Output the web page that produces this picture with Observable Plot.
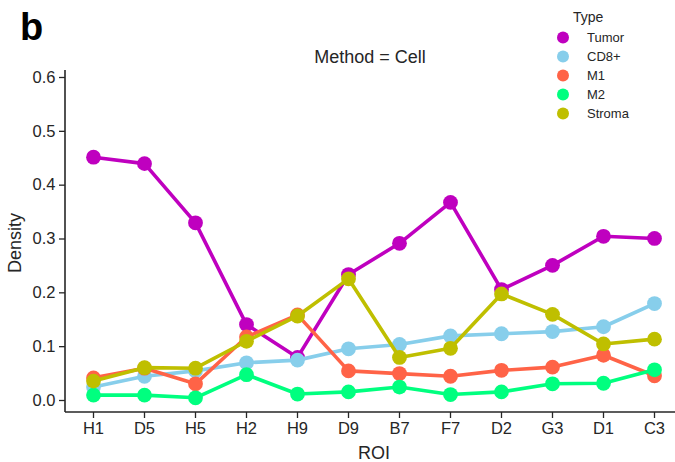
<!DOCTYPE html>
<html>
<head>
<meta charset="utf-8">
<script src="https://cdn.jsdelivr.net/npm/d3@7"></script>
<script src="https://cdn.jsdelivr.net/npm/@observablehq/plot@0.6"></script>
<style>
  html, body { margin: 0; padding: 0; background: #fff; }
  #chart { position: relative; width: 675px; height: 462px; }
</style>
</head>
<body>
<div id="chart"></div>
<script>
const rois = ["H1","D5","H5","H2","H9","D9","B7","F7","D2","G3","D1","C3"];
const types = ["Tumor","CD8+","M1","M2","Stroma"];
const colors = ["#BF00BF","#87CEEB","#FF6347","#00FF7F","#BFBF00"];
const tumor  = [0.452,0.440,0.330,0.141,0.080,0.234,0.292,0.368,0.206,0.251,0.305,0.301];
const cd8    = [0.025,0.045,0.055,0.070,0.075,0.096,0.104,0.120,0.124,0.128,0.137,0.180];
const m1     = [0.042,0.060,0.031,0.118,0.159,0.055,0.050,0.045,0.056,0.062,0.084,0.046];
const m2     = [0.010,0.010,0.005,0.048,0.012,0.016,0.025,0.011,0.016,0.031,0.032,0.057];
const stroma = [0.036,0.061,0.060,0.110,0.157,0.226,0.080,0.097,0.198,0.160,0.105,0.114];
const yTicks = [0,0.1,0.2,0.3,0.4,0.5,0.6];
const title = "Method = Cell";
const panel = "b";

const series = [tumor, cd8, m1, m2, stroma];
const data = [];
series.forEach((vals, k) => vals.forEach((v, i) => data.push({type: types[k], roi: rois[i], density: v})));

const marks = [];
types.forEach((t) => {
  const sub = data.filter(d => d.type === t);
  marks.push(Plot.line(sub, {x: "roi", y: "density", stroke: "type", strokeWidth: 3.6}));
  marks.push(Plot.dot(sub, {x: "roi", y: "density", fill: "type", r: 7.4}));
});
marks.push(Plot.axisY({ticks: yTicks, tickFormat: d3.format(".1f"), tickSize: 6, tickPadding: 4, fontSize: 16.5, label: null, stroke: "#262626", strokeWidth: 1.3}));
marks.push(Plot.axisX({tickSize: 6, tickPadding: 4, fontSize: 16.5, label: null, stroke: "#262626", strokeWidth: 1.3}));

const plot = Plot.plot({
  width: 675,
  height: 462,
  marginTop: 70,
  marginBottom: 50,
  marginLeft: 65,
  marginRight: 0,
  style: {fontFamily: "'Liberation Sans', Arial, sans-serif", color: "#262626", background: "#fff"},
  x: {type: "point", domain: rois, range: [91, 656], padding: 0},
  y: {domain: [-0.0223, 0.613]},
  color: {domain: types, range: colors},
  marks
});
document.getElementById("chart").appendChild(plot);

const svg = d3.select(plot);
const ys = plot.scale("y");
const [yb, yt] = ys.range;
// spines
svg.append("line").attr("x1", 65).attr("x2", 65).attr("y1", yb).attr("y2", yt)
  .attr("stroke", "#262626").attr("stroke-width", 1.6);
svg.append("line").attr("x1", 65).attr("x2", 675).attr("y1", yb).attr("y2", yb)
  .attr("stroke", "#262626").attr("stroke-width", 1.6);

const ff = "'Liberation Sans', Arial, sans-serif";
svg.append("text").text(panel).attr("x", 20).attr("y", 40).attr("text-anchor", "start")
  .attr("font-size", 38).attr("font-weight", "bold").attr("font-family", ff).attr("fill", "#000");
svg.append("text").text(title).attr("x", 370).attr("y", 63).attr("text-anchor", "middle")
  .attr("font-size", 18).attr("font-family", ff).attr("fill", "#262626");
svg.append("text").text("Density").attr("transform", "translate(21,243) rotate(-90)")
  .attr("text-anchor", "middle").attr("font-size", 18).attr("font-family", ff).attr("fill", "#262626");
svg.append("text").text("ROI").attr("x", 374).attr("y", 459).attr("text-anchor", "middle")
  .attr("font-size", 18).attr("font-family", ff).attr("fill", "#262626");

// legend
const lg = svg.append("g").attr("font-family", ff).attr("text-anchor", "start");
lg.append("text").text("Type").attr("x", 573).attr("y", 22).attr("font-size", 14).attr("fill", "#262626");
types.forEach((t, i) => {
  const cy = 37.5 + i * 19;
  lg.append("circle").attr("cx", 563).attr("cy", cy).attr("r", 6).attr("fill", colors[i]);
  lg.append("text").text(t).attr("x", 587).attr("y", cy + 4.5).attr("font-size", 13).attr("fill", "#262626");
});
</script>
</body>
</html>
